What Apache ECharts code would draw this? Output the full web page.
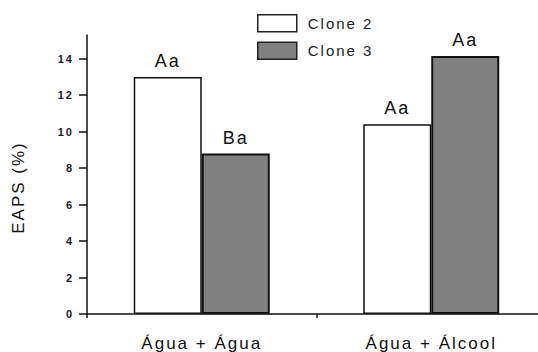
<!DOCTYPE html>
<html>
<head>
<meta charset="utf-8">
<script src="https://cdn.jsdelivr.net/npm/echarts@6/dist/echarts.min.js"></script>
<style>
  html, body { margin: 0; padding: 0; background: #fff; overflow: hidden; }
  /* the drawing is a little wider than the window: the x axis runs off the right edge */
  #chart { width: 546px; height: 352px; }
  /* the figure's lettering is set with open tracking */
  #chart text { letter-spacing: 2px; }
</style>
</head>
<body>
<div id="chart"></div>
<script>
// Treatments (x categories)
const categories = ['Água + Água', 'Água + Álcool'];
// EAPS (%) per clone
const clone2 = [13.0, 10.4];
const clone3 = [8.8, 14.15];
// Significance letters printed above each bar
const clone2Letters = ['Aa', 'Aa'];
const clone3Letters = ['Ba', 'Aa'];
// Y axis tick labels
const yTicks = [0, 2, 4, 6, 8, 10, 12, 14];

const FONT = '"Liberation Sans", Arial, sans-serif';

const chart = echarts.init(document.getElementById('chart'), null, { renderer: 'svg' });

function barLabel(letters) {
  return {
    show: true,
    position: 'top',
    distance: 7,
    fontFamily: FONT,
    fontSize: 18,
    color: '#111',
    formatter: p => letters[p.dataIndex]
  };
}

chart.setOption({
  animation: false,
  backgroundColor: '#fff',
  grid: { left: 87, right: 0, top: 35, bottom: 38, containLabel: false },
  legend: {
    orient: 'vertical',
    left: 257,
    top: 14,
    padding: 0,
    itemWidth: 39,
    itemHeight: 17,
    itemGap: 9,
    icon: 'rect',
    itemStyle: { borderColor: '#222', borderWidth: 1.5 },
    textStyle: { fontFamily: FONT, fontSize: 15, color: '#222', padding: [0, 0, 0, 6] },
    data: ['Clone 2', 'Clone 3']
  },
  xAxis: {
    type: 'category',
    data: categories,
    axisLine: { lineStyle: { color: '#111', width: 1.5 } },
    axisTick: { show: true, length: 4, lineStyle: { color: '#111', width: 1.5 } },
    axisLabel: { fontFamily: FONT, fontSize: 17, color: '#111', margin: 21 }
  },
  yAxis: {
    type: 'value',
    min: 0,
    max: 15.3,
    name: 'EAPS (%)',
    nameLocation: 'middle',
    nameRotate: 90,
    nameGap: 60,
    nameTextStyle: { fontFamily: FONT, fontSize: 17, color: '#111', padding: [0, 26, 0, 0] },
    splitLine: { show: false },
    axisLine: { show: true, lineStyle: { color: '#111', width: 1.5 } },
    axisTick: { show: true, length: 8, customValues: yTicks, lineStyle: { color: '#111', width: 1.5 } },
    axisLabel: {
      customValues: yTicks,
      fontFamily: FONT,
      fontSize: 11,
      fontWeight: 'bold',
      color: '#1a1a2a',
      margin: 13
    }
  },
  series: [
    {
      name: 'Clone 2',
      type: 'bar',
      data: clone2,
      barWidth: 68,
      barGap: '0%',
      itemStyle: { color: '#ffffff', borderColor: '#111', borderWidth: 1.5 },
      label: barLabel(clone2Letters)
    },
    {
      name: 'Clone 3',
      type: 'bar',
      data: clone3,
      barWidth: 68,
      barGap: '0%',
      itemStyle: { color: '#808080', borderColor: '#111', borderWidth: 2 },
      label: barLabel(clone3Letters)
    }
  ]
});
</script>
</body>
</html>
